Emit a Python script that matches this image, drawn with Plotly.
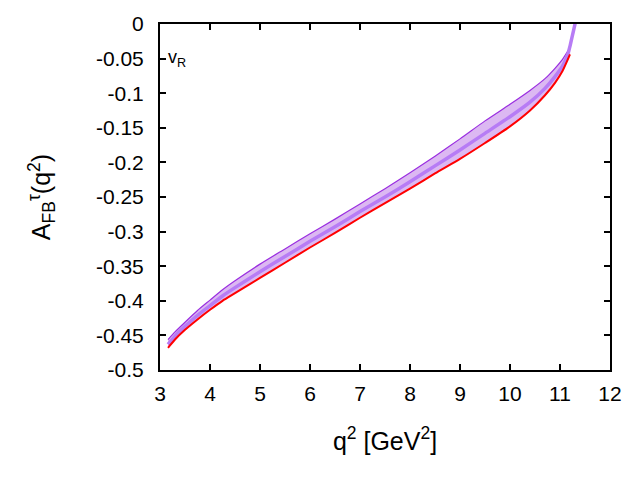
import plotly.graph_objects as go

q2 = [3.16, 3.3, 3.5, 3.75, 4.0, 4.25, 4.5, 5.0, 5.5, 6.0, 6.5, 7.0, 7.5, 8.0,
      8.5, 9.0, 9.5, 10.0, 10.4, 10.7, 10.9, 11.05, 11.2]
lower = [-0.468, -0.456, -0.442, -0.427, -0.413, -0.400, -0.389, -0.367, -0.345,
         -0.323, -0.302, -0.280, -0.259, -0.238, -0.216, -0.195, -0.172, -0.148,
         -0.125, -0.103, -0.085, -0.068, -0.044]
upper = [-0.456, -0.445, -0.431, -0.414, -0.399, -0.384, -0.371, -0.347, -0.325,
         -0.303, -0.282, -0.260, -0.238, -0.215, -0.191, -0.166, -0.140, -0.116,
         -0.096, -0.079, -0.064, -0.051, -0.034]
q2_mid = [3.16, 3.3, 3.5, 3.75, 4.0, 4.25, 4.5, 5.0, 5.5, 6.0, 6.5, 7.0, 7.5, 8.0,
          8.5, 9.0, 9.5, 10.0, 10.4, 10.7, 10.9, 11.05, 11.15, 11.2, 11.25, 11.3,
          11.34]
mid = [-0.463, -0.451, -0.437, -0.421, -0.407, -0.393, -0.381, -0.358, -0.336,
       -0.314, -0.293, -0.271, -0.250, -0.228, -0.205, -0.182, -0.158, -0.134,
       -0.113, -0.093, -0.076, -0.061, -0.045, -0.032, -0.016, 0.0, 0.015]

x_ticks = [3, 4, 5, 6, 7, 8, 9, 10, 11, 12]
y_ticks = [0, -0.05, -0.1, -0.15, -0.2, -0.25, -0.3, -0.35, -0.4, -0.45, -0.5]
y_ticktext = ["0", "-0.05", "-0.1", "-0.15", "-0.2", "-0.25", "-0.3", "-0.35",
              "-0.4", "-0.45", "-0.5"]

FONT = "Liberation Sans, Arial, sans-serif"

fig = go.Figure()
# band fill
fig.add_trace(go.Scatter(
    x=q2 + q2[::-1], y=upper + lower[::-1], fill="toself",
    fillcolor="#dcb8f2", line=dict(width=0, shape="spline", smoothing=0.6),
    mode="lines", hoverinfo="skip", showlegend=False))
# upper edge
fig.add_trace(go.Scatter(x=q2, y=upper, mode="lines",
                         line=dict(color="#9a2ee0", width=1.2, shape="spline",
                                   smoothing=0.6), showlegend=False))
# central line
fig.add_trace(go.Scatter(x=q2_mid, y=mid, mode="lines",
                         line=dict(color="#b77cf5", width=3.5, shape="spline",
                                   smoothing=0.6), showlegend=False))
# red line
fig.add_trace(go.Scatter(x=q2, y=lower, mode="lines",
                         line=dict(color="#ff0000", width=2, shape="spline",
                                   smoothing=0.6), showlegend=False))

axis_common = dict(
    showgrid=False, zeroline=False, showline=True, linecolor="black",
    linewidth=2, mirror="allticks", ticks="inside", ticklen=6, tickwidth=1.5,
    tickcolor="black", tickfont=dict(family=FONT, size=21, color="black"),
)

fig.update_xaxes(range=[3, 12], tickvals=x_ticks, ticklabelstandoff=4,
                 title=dict(text="q<sup>2</sup> [GeV<sup>2</sup>]",
                            font=dict(family=FONT, size=25, color="black"),
                            standoff=28),
                 **axis_common)
fig.update_yaxes(range=[-0.5, 0], tickvals=y_ticks, ticktext=y_ticktext,
                 ticklabelstandoff=10,
                 title=dict(text="A<sub>FB</sub><sup>τ</sup>(q<sup>2</sup>)",
                            font=dict(family=FONT, size=25, color="black"),
                            standoff=38),
                 **axis_common)

fig.add_annotation(x=3.12, y=-0.05, xref="x", yref="y", text="v<sub>R</sub>",
                   showarrow=False, xanchor="left", yanchor="middle",
                   font=dict(family=FONT, size=18, color="black"))

fig.update_layout(
    width=640, height=480,
    margin=dict(l=160, r=30, t=19, b=110),
    paper_bgcolor="white", plot_bgcolor="white",
    font=dict(family=FONT, color="black"),
)

fig.write_html("out.html")
